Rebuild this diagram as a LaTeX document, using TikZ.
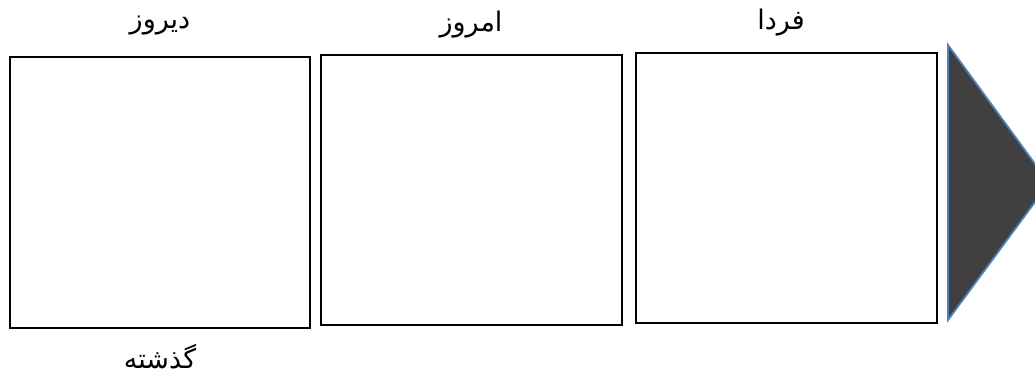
\documentclass[tikz,border=0pt]{standalone}
\usepackage{fontspec}
\TeXXeTstate=1
\newfontfamily\arabicfont[Script=Arabic]{DejaVu Sans}
\definecolor{tridark}{HTML}{404040}
\definecolor{triblue}{HTML}{4F81BD}
\tikzset{
  daybox/.style={draw=black, line width=2.8pt, fill=white},
  lbl/.style={font=\arabicfont\fontsize{27}{30}\selectfont, inner sep=0pt}
}
\begin{document}
\begin{tikzpicture}[x=1pt,y=-1pt]
\useasboundingbox (0,0) rectangle (1035,378);
\clip (0,0) rectangle (1035,378);
\draw[daybox] (10,57) rectangle (310,328);
\draw[daybox] (321,55) rectangle (622,325);
\draw[daybox] (636,53) rectangle (937,323);
\fill[tridark, draw=triblue, line width=1.8pt, line join=miter] (948,45) -- (1049,183) -- (948,320) -- cycle;
\node[lbl] (t1) at (160,26) {\beginR دیروز\endR};
\node[lbl] (t2) at (471,25) {\beginR امروز\endR};
\node[lbl] (t3) at (781,23) {\beginR فردا\endR};
\node[lbl] (t4) at (160,357) {\beginR گذشته\endR};
\end{tikzpicture}
\end{document}
